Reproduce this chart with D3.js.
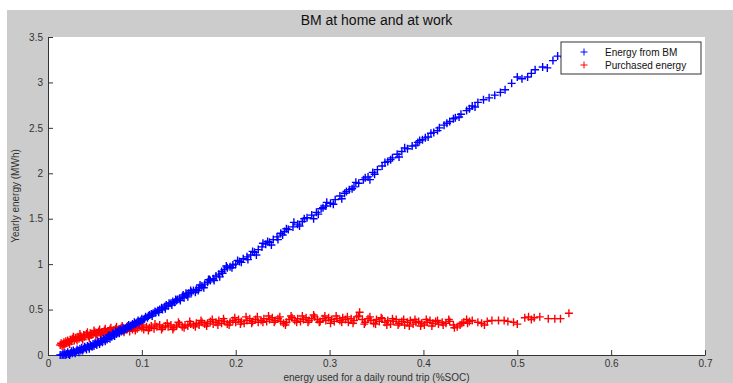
<!DOCTYPE html>
<meta charset="utf-8">
<body style="margin:0;background:#fff">
<script src="https://cdn.jsdelivr.net/npm/d3@7"></script>
<script>
// values
var xTicks = [0, 0.1, 0.2, 0.3, 0.4, 0.5, 0.6, 0.7];
var yTicks = [0, 0.5, 1, 1.5, 2, 2.5, 3, 3.5];
var seriesNames = ["Energy from BM", "Purchased energy"];

// Energy from BM
var bmX = [0.013,0.015,0.016,0.017,0.018,0.019,0.020,0.021,0.022,0.024,0.025,0.026,0.027,0.028,0.030,0.031,0.032,0.034,0.035,0.036,
  0.038,0.039,0.040,0.042,0.043,0.045,0.046,0.048,0.050,0.051,0.053,0.054,0.056,0.057,0.059,0.060,0.062,0.064,0.065,0.067,
  0.069,0.070,0.072,0.074,0.075,0.077,0.079,0.080,0.082,0.084,0.086,0.088,0.090,0.092,0.094,0.096,0.098,0.100,0.102,0.104,
  0.106,0.108,0.110,0.112,0.115,0.117,0.119,0.121,0.124,0.126,0.128,0.131,0.133,0.135,0.138,0.140,0.143,0.145,0.148,0.150,
  0.153,0.155,0.158,0.161,0.164,0.167,0.170,0.173,0.176,0.179,0.182,0.185,0.188,0.191,0.194,0.197,0.200,0.204,0.208,0.212,
  0.216,0.220,0.224,0.228,0.232,0.236,0.240,0.244,0.248,0.252,0.256,0.261,0.266,0.271,0.276,0.281,0.286,0.291,0.296,0.301,
  0.306,0.311,0.316,0.321,0.326,0.331,0.336,0.341,0.346,0.351,0.356,0.362,0.367,0.372,0.377,0.383,0.388,0.394,0.399,0.405,
  0.411,0.417,0.422,0.428,0.434,0.440,0.446,0.452,0.458,0.464,0.470,0.476,0.482,0.487,0.494,0.500,0.505,0.511,0.515,0.519,
  0.527,0.532,0.538,0.543,0.550,0.555,
  0.213,0.229,0.245,0.262,0.283,0.297,0.313,0.328,0.343,0.359,0.374,0.392,0.408,0.425,0.438,0.455,0.160,0.171,0.186,0.125,
  0.137,0.147,
  0.023,0.029,0.033,0.037,0.041,0.044,0.047,0.049,0.052,0.055,0.058,0.061,0.063,0.066,0.068,0.071,0.073,0.076,0.078,0.081,
  0.083,0.085,0.087,0.089,0.091,0.093,0.095,0.097,0.099,0.103,0.107,0.111,0.114,0.118,0.122,0.129,0.132,0.136,0.141,0.144,
  0.149,0.152,0.157,0.162,0.166,0.172,0.177,0.183,0.190,0.196,0.202,0.206,0.218,0.222,0.234,0.238,0.250,0.254,0.268,0.273,
  0.288,0.293,0.304,0.318,0.324,0.338,0.348,0.365,0.380,0.396,0.402,0.415,0.432,0.449];
var bmY = [0.00,0.00,0.01,0.00,0.02,0.00,0.01,0.03,0.01,0.02,0.04,0.02,0.05,0.03,0.04,0.06,0.05,0.07,0.05,0.08,
  0.07,0.09,0.08,0.10,0.09,0.11,0.10,0.12,0.13,0.12,0.15,0.14,0.16,0.15,0.18,0.17,0.19,0.20,0.22,0.21,
  0.24,0.23,0.26,0.25,0.27,0.28,0.27,0.30,0.29,0.31,0.33,0.32,0.34,0.36,0.35,0.38,0.37,0.40,0.39,0.42,
  0.41,0.44,0.45,0.46,0.47,0.49,0.50,0.52,0.53,0.55,0.54,0.57,0.59,0.58,0.61,0.62,0.64,0.63,0.66,0.68,
  0.69,0.71,0.72,0.74,0.76,0.78,0.80,0.82,0.84,0.87,0.89,0.92,0.94,0.96,0.97,0.99,1.00,1.03,1.06,1.08,
  1.10,1.13,1.16,1.19,1.22,1.24,1.27,1.30,1.34,1.36,1.38,1.41,1.44,1.47,1.51,1.54,1.57,1.61,1.64,1.67,
  1.71,1.75,1.78,1.82,1.85,1.89,1.93,1.96,2.01,2.04,2.08,2.13,2.17,2.21,2.24,2.27,2.30,2.34,2.37,2.40,
  2.45,2.50,2.53,2.57,2.61,2.65,2.69,2.74,2.78,2.81,2.83,2.86,2.89,2.92,2.99,3.06,3.04,3.06,3.10,3.14,
  3.17,3.16,3.24,3.29,3.28,3.31,
  1.05,1.23,1.27,1.46,1.50,1.68,1.72,1.90,1.93,2.12,2.18,2.31,2.44,2.55,2.62,2.73,0.71,0.83,0.90,0.51,
  0.60,0.68,
  0.00,0.02,0.03,0.05,0.06,0.07,0.09,0.10,0.11,0.12,0.14,0.15,0.17,0.18,0.20,0.21,0.23,0.24,0.26,0.27,
  0.28,0.30,0.31,0.31,0.33,0.34,0.36,0.35,0.38,0.40,0.43,0.43,0.48,0.47,0.50,0.57,0.55,0.61,0.60,0.66,
  0.64,0.71,0.69,0.77,0.74,0.83,0.82,0.86,0.98,0.96,1.04,1.02,1.14,1.10,1.25,1.21,1.32,1.39,1.42,1.50,
  1.55,1.62,1.66,1.80,1.83,1.95,1.99,2.15,2.28,2.36,2.39,2.47,2.60,2.71];

// Purchased energy
var buyX = [0.013,0.014,0.015,0.016,0.017,0.018,0.019,0.020,0.021,0.022,0.024,0.025,0.026,0.028,0.029,0.030,0.032,0.033,0.035,0.036,
  0.038,0.039,0.041,0.043,0.045,0.046,0.048,0.050,0.052,0.054,0.056,0.058,0.060,0.062,0.064,0.066,0.068,0.070,0.072,0.074,
  0.076,0.078,0.080,0.082,0.084,0.086,0.088,0.090,0.092,0.095,0.097,0.100,0.102,0.105,0.108,0.110,0.113,0.116,0.119,0.122,
  0.125,0.128,0.131,0.134,0.137,0.140,0.143,0.146,0.149,0.152,0.155,0.158,0.161,0.164,0.167,0.170,0.173,0.176,0.179,0.182,
  0.185,0.188,0.191,0.194,0.197,0.200,0.203,0.206,0.209,0.212,0.215,0.218,0.221,0.224,0.227,0.230,0.233,0.236,0.239,0.242,
  0.245,0.248,0.251,0.254,0.257,0.260,0.263,0.266,0.269,0.272,0.275,0.278,0.281,0.284,0.287,0.290,0.293,0.296,0.299,0.302,
  0.305,0.308,0.311,0.314,0.317,0.320,0.323,0.326,0.329,0.332,0.335,0.338,0.341,0.344,0.347,0.350,0.353,0.356,0.359,0.362,
  0.365,0.368,0.371,0.374,0.377,0.380,0.383,0.386,0.389,0.392,0.395,0.398,0.401,0.404,0.407,0.410,0.413,0.416,0.420,0.424,
  0.428,0.432,0.436,0.439,0.443,0.446,0.449,0.452,0.458,0.462,0.465,0.468,0.473,0.480,0.486,0.490,0.496,0.500,0.508,0.512,
  0.515,0.518,0.524,0.533,0.540,0.546,0.555,
  0.101,0.107,0.114,0.121,0.127,0.133,0.139,0.145,0.151,0.157,0.163,0.169,0.175,0.181,0.187,0.193,0.199,0.205,0.211,0.217,
  0.223,0.229,0.235,0.241,0.247,0.253,0.259,0.265,0.271,0.277,0.283,0.289,0.295,0.301,0.307,0.313,0.319,0.325,0.331,0.337,
  0.343,0.349,0.355,0.361,0.367,0.373,0.379,0.385,0.391,0.397,0.403,0.409,0.415,0.421,0.427,0.433,0.441,0.447,
  0.017,0.023,0.031,0.037,0.044,0.051,0.057,0.063,0.069,0.075,0.081,0.087,0.093,
  0.027,0.034,0.042,0.049,0.055,0.061,0.067,0.073,0.079,0.085,0.091,0.097];
var buyY = [0.11,0.13,0.10,0.12,0.14,0.12,0.15,0.13,0.16,0.14,0.17,0.15,0.18,0.16,0.19,0.18,0.20,0.18,0.21,0.19,
  0.22,0.20,0.23,0.21,0.24,0.22,0.23,0.25,0.23,0.26,0.24,0.25,0.27,0.25,0.26,0.28,0.26,0.27,0.29,0.26,
  0.28,0.30,0.27,0.29,0.28,0.30,0.31,0.28,0.30,0.29,0.31,0.30,0.28,0.31,0.30,0.32,0.29,0.31,0.33,0.30,
  0.32,0.31,0.33,0.30,0.32,0.34,0.31,0.33,0.32,0.34,0.33,0.35,0.33,0.36,0.34,0.35,0.37,0.34,0.36,0.38,
  0.35,0.37,0.34,0.36,0.38,0.36,0.39,0.37,0.35,0.38,0.40,0.37,0.39,0.36,0.38,0.40,0.37,0.39,0.41,0.38,
  0.40,0.37,0.35,0.36,0.39,0.41,0.38,0.40,0.37,0.39,0.41,0.38,0.40,0.42,0.39,0.37,0.40,0.38,0.41,0.39,
  0.37,0.40,0.38,0.41,0.39,0.36,0.40,0.38,0.42,0.47,0.39,0.36,0.40,0.38,0.35,0.39,0.37,0.40,0.36,0.38,
  0.34,0.37,0.39,0.35,0.37,0.33,0.36,0.38,0.34,0.36,0.37,0.35,0.33,0.36,0.38,0.35,0.37,0.34,0.36,0.35,
  0.37,0.33,0.31,0.33,0.36,0.39,0.37,0.38,0.36,0.35,0.33,0.37,0.38,0.38,0.38,0.37,0.36,0.34,0.41,0.42,
  0.39,0.41,0.42,0.40,0.40,0.40,0.46,
  0.33,0.27,0.34,0.28,0.35,0.28,0.36,0.30,0.37,0.31,0.38,0.32,0.39,0.33,0.40,0.33,0.41,0.34,0.42,0.35,
  0.42,0.36,0.43,0.36,0.42,0.33,0.43,0.36,0.43,0.36,0.44,0.36,0.43,0.35,0.43,0.36,0.42,0.35,0.43,0.34,
  0.42,0.34,0.41,0.33,0.40,0.33,0.39,0.32,0.39,0.32,0.39,0.32,0.38,0.33,0.39,0.30,0.35,0.35,
  0.10,0.12,0.16,0.17,0.19,0.21,0.22,0.23,0.24,0.25,0.25,0.26,0.27,
  0.20,0.23,0.25,0.27,0.28,0.29,0.30,0.31,0.32,0.32,0.33,0.34];

var W = 733, H = 383;
var margin = {top: 37, right: 28, bottom: 28, left: 48};
var width = W - margin.left - margin.right,
    height = H - margin.top - margin.bottom;

var svg = d3.select("body").append("svg")
    .attr("width", W)
    .attr("height", H)
    .style("display", "block")
    .style("font-family", "'Liberation Sans', Arial, sans-serif");

// grey figure background
svg.append("rect")
    .attr("x", 7).attr("y", 10)
    .attr("width", W - 7).attr("height", H - 10)
    .attr("fill", "#cccccc");

var g = svg.append("g")
    .attr("transform", "translate(" + margin.left + "," + margin.top + ")");

g.append("rect")
    .attr("width", width).attr("height", height)
    .attr("fill", "#fff");

var x = d3.scaleLinear().domain([0, 0.7]).range([0, width]);
var y = d3.scaleLinear().domain([0, 3.5]).range([height, 0]);

var xAxis = g.append("g")
    .attr("transform", "translate(0," + height + ")")
    .call(d3.axisBottom(x).tickValues(xTicks).tickFormat(d3.format("")).tickSizeInner(-5).tickSizeOuter(0).tickPadding(5));

var yAxis = g.append("g")
    .call(d3.axisLeft(y).tickValues(yTicks).tickFormat(d3.format("")).tickSizeInner(-5).tickSizeOuter(0).tickPadding(5));

[xAxis, yAxis].forEach(function(a) {
  a.select(".domain").attr("stroke", "#333");
  a.selectAll(".tick line").attr("stroke", "#333");
  a.selectAll(".tick text").attr("fill", "#333").style("font-size", "10px");
});

var cross = "M-4,0H4M0,-4V4";

function drawSeries(xs, ys, color) {
  g.append("g").selectAll("path")
    .data(xs.map(function(d, i) { return [d, ys[i]]; }))
    .enter().append("path")
    .attr("d", cross)
    .attr("transform", function(d) { return "translate(" + x(d[0]) + "," + y(d[1]) + ")"; })
    .attr("stroke", color)
    .attr("stroke-width", 1.4)
    .attr("fill", "none");
}

drawSeries(buyX, buyY, "#ff0000");
drawSeries(bmX, bmY, "#0000ff");

// title and axis labels
svg.append("text")
    .attr("x", margin.left + width / 2).attr("y", 25)
    .attr("text-anchor", "middle")
    .style("font-size", "14px").attr("fill", "#111")
    .text("BM at home and at work");

svg.append("text")
    .attr("x", margin.left + width / 2).attr("y", 381)
    .attr("text-anchor", "middle")
    .style("font-size", "10px").attr("fill", "#333")
    .text("energy used for a daily round trip (%SOC)");

svg.append("text")
    .attr("transform", "translate(19," + (margin.top + height / 2) + ") rotate(-90)")
    .attr("text-anchor", "middle")
    .style("font-size", "10px").attr("fill", "#333")
    .text("Yearly energy (MWh)");

// legend
var legend = svg.append("g").attr("transform", "translate(561,42)");
legend.append("rect")
    .attr("width", 140).attr("height", 32)
    .attr("fill", "#fff").attr("stroke", "#333");
var colors = ["#0000ff", "#ff0000"];
seriesNames.forEach(function(name, i) {
  legend.append("path")
    .attr("d", "M-3.5,0H3.5M0,-3.5V3.5")
    .attr("transform", "translate(23," + (10 + i * 13) + ")")
    .attr("stroke", colors[i]).attr("fill", "none");
  legend.append("text")
    .attr("x", 44).attr("y", 14 + i * 13)
    .style("font-size", "10px").attr("fill", "#111")
    .text(name);
});
</script>
</body>
